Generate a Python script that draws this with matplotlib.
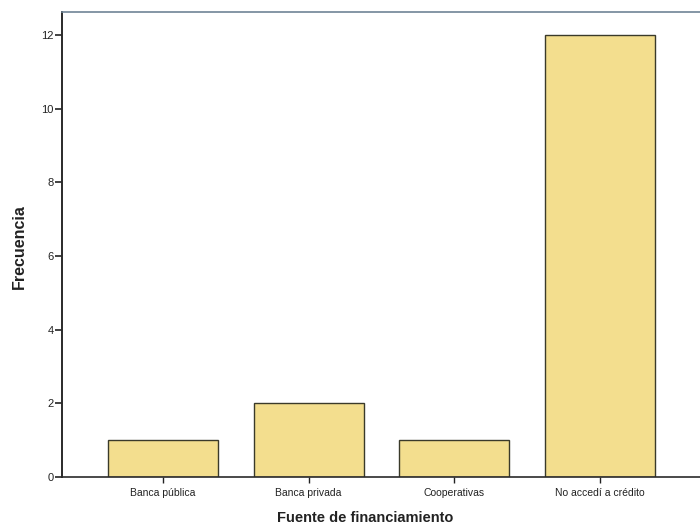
import matplotlib
matplotlib.use("Agg")
import matplotlib.pyplot as plt

categories = ["Banca pública", "Banca privada", "Cooperativas", "No accedí a crédito"]
values = [1, 2, 1, 12]

plt.rcParams['font.family'] = ['Liberation Sans', 'DejaVu Sans']

fig = plt.figure(figsize=(7.0, 5.28), dpi=100)
ax = fig.add_axes([62/700, 1-477/528, 1-62/700, (477-12)/528])

x = list(range(len(categories)))
ax.bar(x, values, width=0.755, color="#F3DE8E", edgecolor="#3a3a2a", linewidth=1.0, zorder=2)

ax.set_xlim(-0.693, 3.686)
ax.set_ylim(0, 12.63)
ax.set_yticks([0, 2, 4, 6, 8, 10, 12])
ax.set_xticks(x)
ax.set_xticklabels(categories, fontsize=7.5, color="#222222")
ax.tick_params(axis='y', direction='out', length=5, width=1.2, labelsize=8, pad=1, colors="#222222")
ax.tick_params(axis='x', direction='out', length=4, width=1.0, pad=4, colors="#222222")

ax.spines['left'].set_color("#2a2a2a")
ax.spines['left'].set_linewidth(1.4)
ax.spines['bottom'].set_color("#2a2a2a")
ax.spines['bottom'].set_linewidth(1.2)
ax.spines['top'].set_color("#6f8496")
ax.spines['top'].set_linewidth(1.2)
ax.spines['right'].set_visible(False)

ax.set_ylabel("Frecuencia", fontsize=11.5, fontweight='bold', color="#222222")
ax.yaxis.label.set_va('center')
ax.yaxis.set_label_coords((19-62)/638, (477-247)/465)
ax.set_xlabel("Fuente de financiamiento", fontsize=10.5, fontweight='bold', color="#222222")
ax.xaxis.label.set_va('center')
ax.xaxis.set_label_coords((365-62)/638, -(518-477)/465)

fig.savefig("out.png", dpi=100)
